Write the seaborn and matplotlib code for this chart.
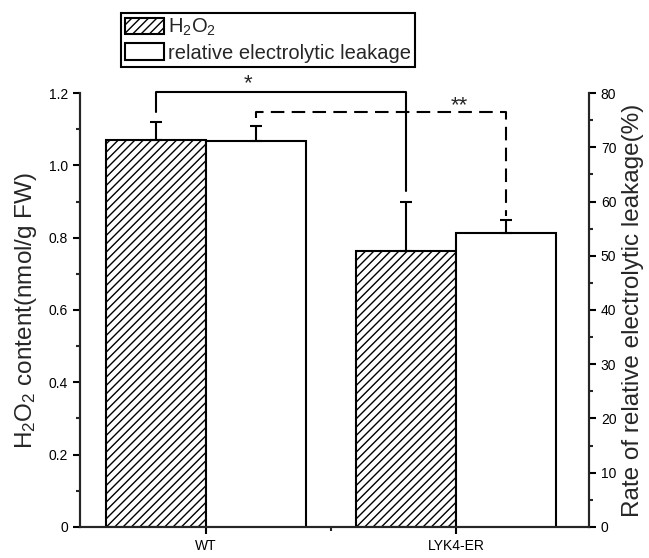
import numpy as np
import pandas as pd
import matplotlib
matplotlib.use("Agg")
import matplotlib.pyplot as plt
import seaborn as sns
from matplotlib.patches import Patch
from matplotlib.ticker import MultipleLocator, FixedLocator, FuncFormatter


GROUPS = ["WT", "LYK4-ER"]
SERIES = ["H2O2", "leakage"]
H2O2 = [1.07, 0.764]
H2O2_ERR = [0.05, 0.135]
LEAKAGE = [71.1, 54.2]
LEAKAGE_ERR = [2.9, 2.4]

HATCH = "////"
LW = 1.5


def draw_bars(ax, values, errors, series, hatch=None):
    df = pd.DataFrame({"group": GROUPS, "value": values, "series": series})
    sns.barplot(
        data=df, x="group", y="value", hue="series",
        order=GROUPS, hue_order=SERIES, dodge=True, width=0.8,
        palette={s: "white" for s in SERIES}, saturation=1,
        edgecolor="black", linewidth=LW, errorbar=None, legend=False, ax=ax
    )
    bars = sorted(ax.patches, key=lambda p: p.get_x())
    xs, tops = [], []
    for bar in bars:
        if hatch:
            bar.set_hatch(hatch)
        xs.append(bar.get_x() + bar.get_width() / 2)
        tops.append(bar.get_height())
    ax.errorbar(
        xs, tops, yerr=[np.zeros(len(errors)), errors], fmt="none",
        ecolor="black", elinewidth=LW, capsize=4, capthick=LW, zorder=1
    )
    return xs


def main():
    sns.set_style("ticks")
    plt.rcParams["font.family"] = ["Liberation Sans", "DejaVu Sans"]
    plt.rcParams["mathtext.default"] = "regular"
    plt.rcParams["hatch.linewidth"] = 1.0

    fig, ax = plt.subplots(figsize=(6.49, 5.58), dpi=100)
    fig.subplots_adjust(left=0.1233, right=0.9076, bottom=0.0556, top=0.8333)
    ax2 = ax.twinx()

    xs_h = draw_bars(ax, H2O2, H2O2_ERR, "H2O2", hatch=HATCH)
    xs_l = draw_bars(ax2, LEAKAGE, LEAKAGE_ERR, "leakage")

    ax.set_xlim(-0.504, 1.532)
    ax.set_ylim(0, 1.2)
    ax2.set_ylim(0, 80)

    for a in (ax, ax2):
        a.spines["top"].set_visible(False)
        for s in a.spines.values():
            s.set_linewidth(LW)
        a.tick_params(which="major", direction="out", length=5, width=LW,
                      labelsize=10, colors="black")
        a.tick_params(which="minor", direction="out", length=3, width=LW)
        a.set_xlabel("")

    ax.yaxis.set_major_locator(MultipleLocator(0.2))
    ax.yaxis.set_minor_locator(MultipleLocator(0.1))
    ax.yaxis.set_major_formatter(FuncFormatter(lambda v, _: "0" if abs(v) < 1e-9 else f"{v:.1f}"))
    ax2.yaxis.set_major_locator(MultipleLocator(10))
    ax2.yaxis.set_minor_locator(MultipleLocator(5))
    ax2.yaxis.set_major_formatter(FuncFormatter(lambda v, _: f"{v:.0f}"))
    ax.xaxis.set_minor_locator(FixedLocator([0.5]))

    ax.set_ylabel("H$_2$O$_2$ content(nmol/g FW)", fontsize=17.5, labelpad=7)
    ax2.set_ylabel("Rate of relative electrolytic leakage(%)", fontsize=17.5, labelpad=4)

    # significance brackets (left-axis units)
    scale = 1.2 / 80
    top_h = [h + e for h, e in zip(H2O2, H2O2_ERR)]
    top_l = [(v + e) * scale for v, e in zip(LEAKAGE, LEAKAGE_ERR)]
    y1, y2 = 1.202, 1.147
    ax.plot([xs_h[0], xs_h[0], xs_h[1], xs_h[1]],
            [top_h[0] + 0.027, y1, y1, top_h[1] + 0.03],
            color="black", lw=LW, clip_on=False, zorder=5)
    ax.plot([xs_l[0], xs_l[0], xs_l[1], xs_l[1]],
            [top_l[0] + 0.02, y2, y2, top_l[1] + 0.01],
            color="black", lw=LW, ls=(0, (6.5, 3.5)), clip_on=False, zorder=5)
    ax.text(0.168, 1.226, "*", ha="center", va="center", fontsize=16)
    ax.text(1.012, 1.165, "**", ha="center", va="center", fontsize=16)

    handles = [
        Patch(facecolor="white", edgecolor="black", hatch=HATCH, linewidth=LW),
        Patch(facecolor="white", edgecolor="black", linewidth=LW),
    ]
    leg = fig.legend(handles, ["H$_2$O$_2$", "relative electrolytic leakage"],
                     loc="upper left", bbox_to_anchor=(0.1864, 0.9767),
                     borderaxespad=0, fancybox=False, fontsize=14.5,
                     handlelength=1.95, handleheight=0.9, handletextpad=0.2,
                     labelspacing=0.25, borderpad=0.2, framealpha=1)
    leg.get_frame().set_edgecolor("black")
    leg.get_frame().set_linewidth(LW)

    fig.savefig("out.png", dpi=100)
    plt.close(fig)


if __name__ == "__main__":
    main()
